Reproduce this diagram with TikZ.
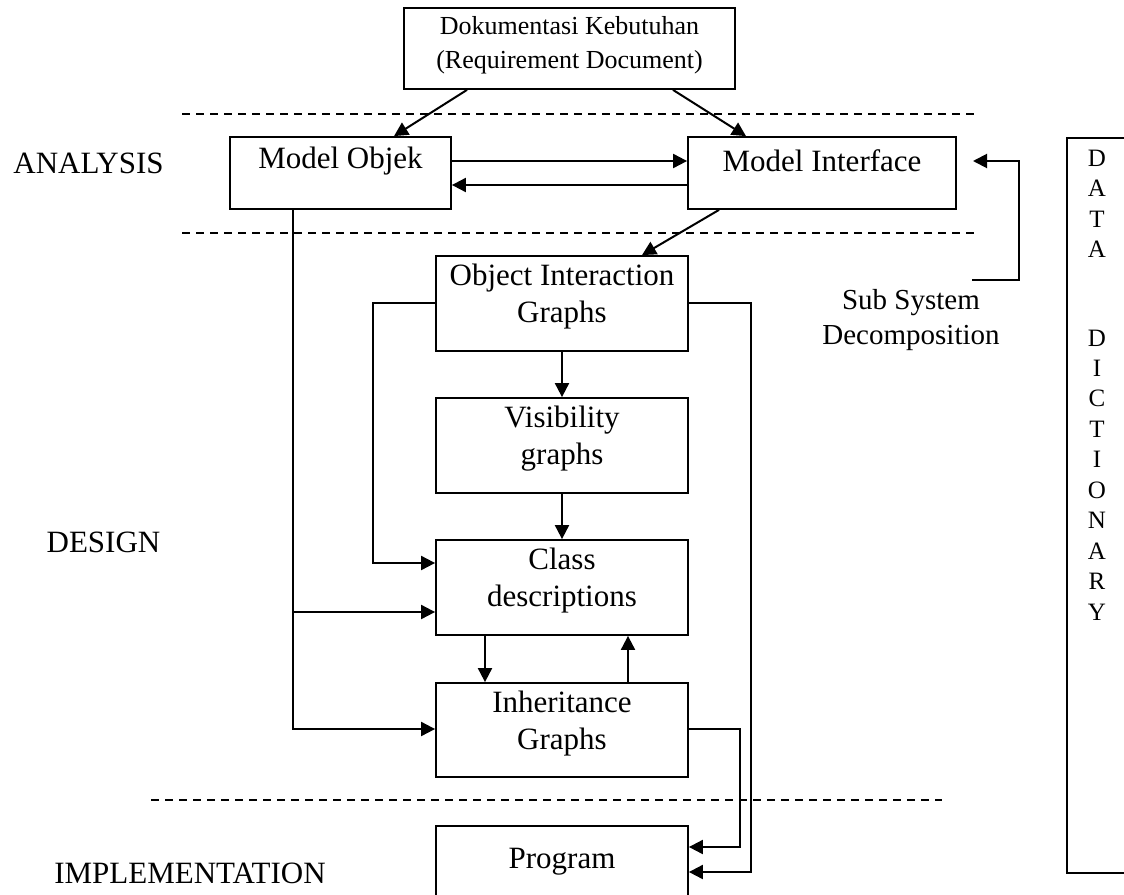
\documentclass[tikz,border=0pt]{standalone}
\usepackage{fontspec}
\setmainfont{Liberation Serif}
\usetikzlibrary{arrows.meta}
\begin{document}
\begin{tikzpicture}[x=1pt,y=-1pt,
  box/.style={draw, line width=1.8pt, inner sep=0pt},
  lbl/.style={font=\fontsize{31}{37}\selectfont, align=center, inner sep=0pt},
  doclbl/.style={font=\fontsize{26}{34}\selectfont, align=center, inner sep=0pt},
  ddl/.style={font=\fontsize{25}{30}\selectfont, inner sep=0pt},
  arr/.style={line width=2pt, -{Triangle[length=14pt,width=14pt]}},
  wire/.style={line width=2pt},
  sepline/.style={line width=1.5pt, dash pattern=on 8pt off 6pt},
]
\useasboundingbox (0,0) rectangle (1124,894);
\fill[white] (0,0) rectangle (1124,894);

% separators
\draw[sepline] (182,114) -- (974,114);
\draw[sepline] (182,233) -- (974,233);
\draw[sepline] (151,800) -- (942,800);

% phase labels
\node[lbl] (lanalysis) at (88.5,163) {ANALYSIS};
\node[lbl] (ldesign) at (103.5,542) {DESIGN};
\node[lbl] (limpl) at (190,873) {IMPLEMENTATION};

% boxes
\node[box, minimum width=331pt, minimum height=81pt] (doc) at (569.5,48.5) {};
\node[doclbl] (doct) at (569.5,45) {Dokumentasi Kebutuhan\\(Requirement Document)};

\node[box, minimum width=221pt, minimum height=72pt] (mo) at (340.5,173) {};
\node[lbl] (mot) at (340.5,161) {Model Objek};

\node[box, minimum width=268pt, minimum height=72pt] (mi) at (822,173) {};
\node[lbl] (mit) at (822,161) {Model Interface};

\node[box, minimum width=252pt, minimum height=95pt] (oig) at (562,303.5) {};
\node[lbl] (oigt) at (562,297) {Object Interaction\\Graphs};

\node[box, minimum width=252pt, minimum height=95pt] (vg) at (562,445.5) {};
\node[lbl] (vgt) at (562,439) {Visibility\\graphs};

\node[box, minimum width=252pt, minimum height=95pt] (cd) at (562,587.5) {};
\node[lbl] (cdt) at (562,581) {Class\\descriptions};

\node[box, minimum width=252pt, minimum height=94pt] (ig) at (562,730) {};
\node[lbl] (igt) at (562,724) {Inheritance\\Graphs};

\node[box, minimum width=252pt, minimum height=85pt, anchor=north] (prog) at (562,825) {};
\node[lbl] (progt) at (562,862) {Program};

\node[box, minimum width=90pt, minimum height=735pt, anchor=north west] (dd) at (1066,137) {};
\foreach \l/\yy [count=\i] in {D/158,A/188.5,T/219,A/249.5,D/338,I/368,C/398.5,T/429,I/459.5,O/490,N/520.5,A/551,R/581.5,Y/612}
  \node[ddl] (dd\i) at (1097,\yy) {\l};

\node[lbl, font=\fontsize{29}{35}\selectfont] (sst) at (911,320) {Sub System\\Decomposition};

% connectors
\draw[arr] (doc.south -| 467,0) -- (mo.north -| 394,0);
\draw[arr] (doc.south -| 673,0) -- (mi.north -| 746,0);
\draw[arr] (mo.east |- 0,161) -- (mi.west |- 0,161);
\draw[arr] (mi.west |- 0,185) -- (mo.east |- 0,185);

\coordinate (ssfrom) at (972,280);
\coordinate (sstip) at (973,161);
\draw[arr] (ssfrom) -- (1019,280) -- (1019,161) -- (sstip);

\draw[arr] (mi.south -| 719,0) -- (oig.north -| 642,0);

\draw[arr] (mo.south -| 293,0) |- (ig.west |- 0,729);
\draw[arr] (293,612) -- (cd.west |- 0,612);

\draw[arr] (oig.west |- 0,303) -- (372.5,303) |- (cd.west |- 0,563);
\draw[arr] (oig.east |- 0,303) -- (751,303) |- (prog.east |- 0,872);
\draw[arr] (ig.east |- 0,729) -- (740,729) |- (prog.east |- 0,847);

\draw[arr] (oig.south) -- (vg.north);
\draw[arr] (vg.south) -- (cd.north);
\draw[arr] (cd.south -| 485,0) -- (ig.north -| 485,0);
\draw[arr] (ig.north -| 628,0) -- (cd.south -| 628,0);
\end{tikzpicture}
\end{document}
